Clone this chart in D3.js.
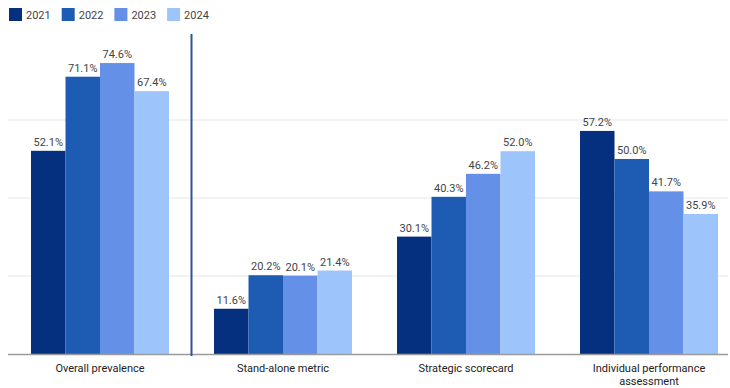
<!DOCTYPE html>
<html>
<head>
<meta charset="utf-8">
<script src="https://cdn.jsdelivr.net/npm/d3@7"></script>
<style>
  body { margin: 0; background: #fff; }
  text { font-family: Roboto, "Liberation Sans", sans-serif; }
</style>
</head>
<body>
<script>
// data
const categories = ["Overall prevalence", "Stand-alone metric", "Strategic scorecard", "Individual performance assessment"];
const years = ["2021", "2022", "2023", "2024"];
const v2021 = [52.1, 11.6, 30.1, 57.2];
const v2022 = [71.1, 20.2, 40.3, 50.0];
const v2023 = [74.6, 20.1, 46.2, 41.7];
const v2024 = [67.4, 21.4, 52.0, 35.9];
const gridTicks = [20, 40, 60];
const colors = ["#04307f", "#1e5cb3", "#6590e8", "#9ec5fb"];

const series = [v2021, v2022, v2023, v2024];

const svg = d3.select("body").append("svg")
  .attr("width", 730)
  .attr("height", 388);

const x0 = d3.scaleBand().domain(categories).range([8.5, 740.5])
  .paddingInner(0.246).paddingOuter(0.123);
const x1 = d3.scaleBand().domain(years).range([0, x0.bandwidth()]);
const y = d3.scaleLinear().domain([0, 80]).range([354, 42]);
const color = d3.scaleOrdinal().domain(years).range(colors);

// gridlines
svg.append("g").selectAll("line")
  .data(gridTicks)
  .enter().append("line")
  .attr("x1", 8).attr("x2", 728)
  .attr("y1", function (d) { return y(d); })
  .attr("y2", function (d) { return y(d); })
  .attr("stroke", "#e6e6e6").attr("stroke-width", 1);

// bars
const groups = svg.append("g").selectAll("g")
  .data(categories)
  .enter().append("g")
  .attr("transform", function (d) { return "translate(" + x0(d) + ",0)"; });

groups.selectAll("rect")
  .data(function (d, i) { return years.map(function (yr, j) { return { year: yr, value: series[j][i] }; }); })
  .enter().append("rect")
  .attr("x", function (d) { return x1(d.year); })
  .attr("width", x1.bandwidth())
  .attr("y", function (d) { return y(d.value); })
  .attr("height", function (d) { return y(0) - y(d.value); })
  .attr("fill", function (d) { return color(d.year); });

groups.selectAll("text")
  .data(function (d, i) { return years.map(function (yr, j) { return { year: yr, value: series[j][i] }; }); })
  .enter().append("text")
  .attr("x", function (d) { return x1(d.year) + x1.bandwidth() / 2; })
  .attr("y", function (d) { return y(d.value) - 5; })
  .attr("text-anchor", "middle")
  .attr("font-size", 11)
  .attr("fill", "#444")
  .text(function (d) { return d.value.toFixed(1) + "%"; });

// baseline
svg.append("line")
  .attr("x1", 8).attr("x2", 728)
  .attr("y1", y(0) + 0.5).attr("y2", y(0) + 0.5)
  .attr("stroke", "#9a9a9a").attr("stroke-width", 1.5);

// divider between overall and breakdown
const divX = x0(categories[1]) - x0.step() * x0.paddingInner() / 2;
svg.append("line")
  .attr("x1", divX).attr("x2", divX)
  .attr("y1", 34).attr("y2", 356)
  .attr("stroke", "#2f5597").attr("stroke-width", 2);

// category labels
const catLabels = svg.append("g").selectAll("text")
  .data(categories)
  .enter().append("text")
  .attr("x", function (d) { return x0(d) + x0.bandwidth() / 2; })
  .attr("y", 372)
  .attr("text-anchor", "middle")
  .attr("font-size", 11)
  .attr("fill", "#222");

catLabels.each(function (d) {
  const t = d3.select(this);
  const lines = d === "Individual performance assessment" ? ["Individual performance", "assessment"] : [d];
  lines.forEach(function (l, i) {
    t.append("tspan").attr("x", t.attr("x")).attr("dy", i === 0 ? 0 : 13).text(l);
  });
});

// legend
const legend = svg.append("g").selectAll("g")
  .data(years)
  .enter().append("g")
  .attr("transform", function (d, i) { return "translate(" + (9 + i * 52.7) + ",8)"; });

legend.append("rect")
  .attr("width", 13).attr("height", 13)
  .attr("fill", function (d) { return color(d); });

legend.append("text")
  .attr("x", 17).attr("y", 10.5)
  .attr("font-size", 11)
  .attr("fill", "#444")
  .text(function (d) { return d; });
</script>
</body>
</html>
